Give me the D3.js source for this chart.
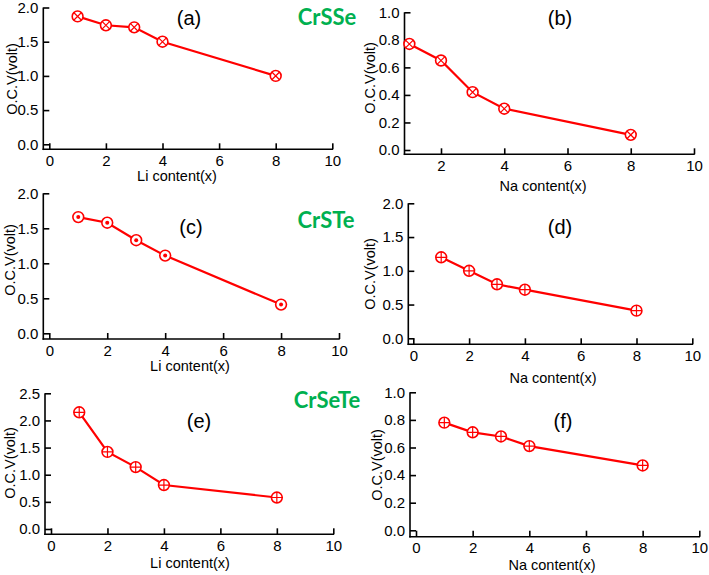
<!DOCTYPE html>
<html><head><meta charset="utf-8">
<script src="https://cdn.jsdelivr.net/npm/d3@7"></script>
<style>body{margin:0;background:#fff}svg{display:block}</style>
</head><body>
<script>
// ---- data ----
const xContent = [1, 2, 3, 4, 8];
const ocvA = [1.87, 1.74, 1.71, 1.50, 1.00];   // CrSSe, Li
const ocvB = [0.77, 0.65, 0.42, 0.30, 0.11];   // CrSSe, Na
const ocvC = [1.66, 1.58, 1.33, 1.11, 0.41];   // CrSTe, Li
const ocvD = [1.20, 1.00, 0.80, 0.72, 0.41];   // CrSTe, Na
const ocvE = [2.15, 1.42, 1.14, 0.81, 0.58];   // CrSeTe, Li
const ocvF = [0.78, 0.71, 0.68, 0.61, 0.47];   // CrSeTe, Na
const xTicksFull = [0, 2, 4, 6, 8, 10];
const xTicksNa = [2, 4, 6, 8, 10];
const yTicks2 = [0, 0.5, 1.0, 1.5, 2.0];
const yTicks25 = [0, 0.5, 1.0, 1.5, 2.0, 2.5];
const yTicks1 = [0, 0.2, 0.4, 0.6, 0.8, 1.0];
const panelLabels = ["(a)", "(b)", "(c)", "(d)", "(e)", "(f)"];
const compounds = ["CrSSe", "CrSTe", "CrSeTe"];
const yTitle = "O.C.V(volt)";
const xTitles = ["Li content(x)", "Na content(x)"];

// ---- layout (pixels) ----
const panels = [
  {vals: ocvA, xd:[0,10], xr:[49.3,332.3], yd:[0,2], yr:[144.3,7.5], yax:43.3, xax:149.3, xt:xTicksFull, yt:yTicks2, lab:[189,25], xtp:[177,181], ytp:[17,79], mk:"x"},
  {vals: ocvB, xd:[2,10], xr:[441,694], yd:[0,1], yr:[150,12.3], yax:404.5, xax:154.3, xt:xTicksNa, yt:yTicks1, lab:[560,25], xtp:[543,191], ytp:[375,78], mk:"x"},
  {vals: ocvC, xd:[0,10], xr:[49.3,339], yd:[0,2], yr:[333.3,193.3], yax:43.3, xax:339, xt:xTicksFull, yt:yTicks2, lab:[191,234], xtp:[190,371], ytp:[15,260], mk:"dot"},
  {vals: ocvD, xd:[0,10], xr:[413.3,692.3], yd:[0,2], yr:[338.3,203.3], yax:408.3, xax:344.3, xt:xTicksFull, yt:yTicks2, lab:[560,234], xtp:[553,383], ytp:[375,274], mk:"plus"},
  {vals: ocvE, xd:[0,10], xr:[51,333.3], yd:[0,2.5], yr:[529,393.3], yax:45, xax:534.3, xt:xTicksFull, yt:yTicks25, lab:[199,428], xtp:[190,568], ytp:[15,463], mk:"plus"},
  {vals: ocvF, xd:[0,10], xr:[416,699.3], yd:[0,1], yr:[530.3,392.3], yax:410, xax:536.7, xt:xTicksFull, yt:yTicks1, lab:[563,428], xtp:[552,570], ytp:[382,465], mk:"plus"}
];
const compoundPos = [[327,25],[326,228],[327,408]];

const svg = d3.select("body").append("svg").attr("width",709).attr("height",575);
const font = "'Liberation Sans', Arial, sans-serif";
const red = "#ff0000";

panels.forEach((p, i) => {
  const x = d3.scaleLinear().domain(p.xd).range(p.xr);
  const y = d3.scaleLinear().domain(p.yd).range(p.yr);
  const g = svg.append("g");
  const yTop = y(p.yd[1]);
  const xRight = x(10);
  // axis lines
  g.append("line").attr("x1",p.yax).attr("x2",p.yax).attr("y1",yTop).attr("y2",p.xax+0.75)
    .attr("stroke","#000").attr("stroke-width",1.6);
  g.append("line").attr("x1",p.yax-0.75).attr("x2",xRight+0.75).attr("y1",p.xax).attr("y2",p.xax)
    .attr("stroke","#000").attr("stroke-width",1.6);
  // y axis
  const ya = g.append("g").attr("transform",`translate(${p.yax},0)`)
    .call(d3.axisLeft(y).tickValues(p.yt).tickFormat(d3.format(".1f")).tickSize(-6).tickPadding(5));
  // x axis
  const xa = g.append("g").attr("transform",`translate(0,${p.xax})`)
    .call(d3.axisBottom(x).tickValues(p.xt).tickFormat(d3.format("d")).tickSize(-6).tickPadding(6));
  [ya, xa].forEach(a => {
    a.select(".domain").remove();
    a.selectAll(".tick line").attr("stroke","#000").attr("stroke-width",1.6);
    a.selectAll(".tick text").attr("font-family",font).attr("font-size",15).attr("fill","#000");
  });
  // titles
  g.append("text").attr("x",p.xtp[0]).attr("y",p.xtp[1]).attr("text-anchor","middle")
    .attr("font-family",font).attr("font-size",14.5).text(xTitles[i % 2]);
  g.append("text").attr("transform",`translate(${p.ytp[0]},${p.ytp[1]}) rotate(-90)`)
    .attr("text-anchor","middle").attr("font-family",font).attr("font-size",14.5).text(yTitle);
  g.append("text").attr("x",p.lab[0]).attr("y",p.lab[1]).attr("text-anchor","middle")
    .attr("font-family",font).attr("font-size",20).text(panelLabels[i]);
  // line
  const pts = xContent.map((d, k) => [d, p.vals[k]]);
  g.append("path").datum(pts)
    .attr("d", d3.line().x(d => x(d[0])).y(d => y(d[1])))
    .attr("fill","none").attr("stroke",red).attr("stroke-width",2.2);
  // markers
  const r = 5.4;
  const m = g.selectAll("g.mk").data(pts).enter().append("g")
    .attr("transform", d => `translate(${x(d[0])},${y(d[1])})`);
  m.append("circle").attr("r",r).attr("fill","#fff").attr("stroke",red).attr("stroke-width",1.6);
  if (p.mk === "x") {
    const c = r*0.72;
    m.append("path").attr("d",`M${-c},${-c}L${c},${c}M${-c},${c}L${c},${-c}`).attr("stroke",red).attr("stroke-width",1.2);
  } else if (p.mk === "plus") {
    m.append("path").attr("d",`M${-r},0L${r},0M0,${-r}L0,${r}`).attr("stroke",red).attr("stroke-width",1.2);
  } else {
    m.append("circle").attr("r",2).attr("fill",red);
  }
});

compounds.forEach((c, i) => {
  svg.append("text").attr("x",compoundPos[i][0]).attr("y",compoundPos[i][1]).attr("text-anchor","middle")
    .attr("font-family","Lato, 'Open Sans', sans-serif").attr("font-weight","bold").attr("font-size",22)
    .attr("fill","#00b050").text(c);
});
</script>
</body></html>
